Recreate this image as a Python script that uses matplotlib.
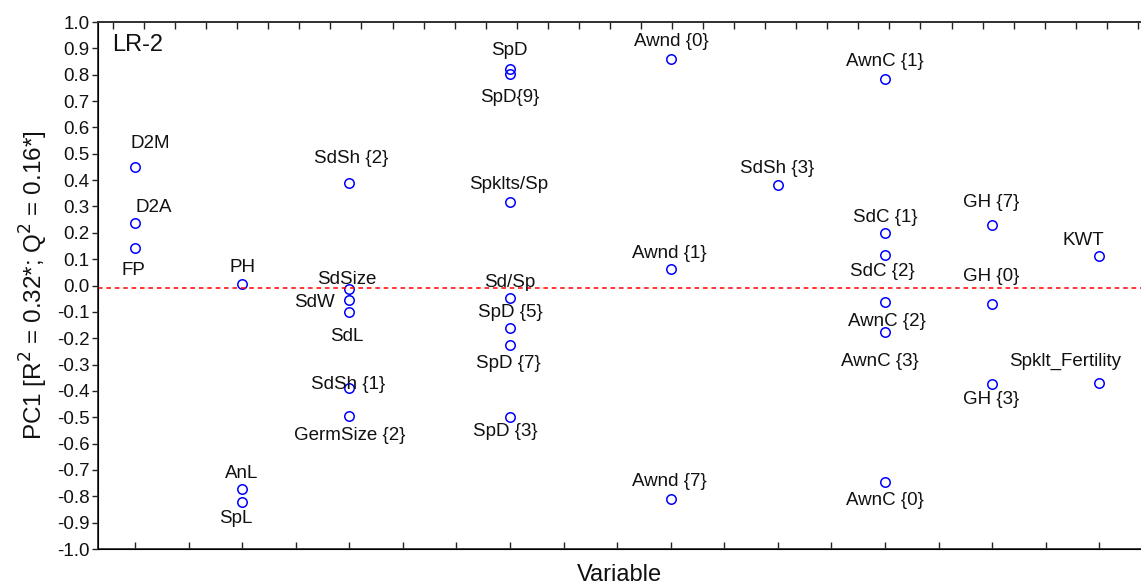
import matplotlib
matplotlib.use("Agg")
import matplotlib.pyplot as plt

plt.rcParams['font.family'] = ['Liberation Sans', 'DejaVu Sans']

# variable labels, column position on the "Variable" axis and PC1 loading
labels = ["D2M", "D2A", "FP",
          "PH", "AnL", "SpL",
          "SdSh {2}", "SdSize", "SdW", "SdL", "SdSh {1}", "GermSize {2}",
          "SpD", "SpD{9}", "Spklts/Sp", "Sd/Sp", "SpD {5}", "SpD {7}", "SpD {3}",
          "Awnd {0}", "Awnd {1}", "Awnd {7}",
          "SdSh {3}",
          "AwnC {1}", "SdC {1}", "SdC {2}", "AwnC {2}", "AwnC {3}", "AwnC {0}",
          "GH {7}", "GH {0}", "GH {3}",
          "KWT", "Spklt_Fertility"]
xpos = [1, 1, 1,
        3, 3, 3,
        5, 5, 5, 5, 5, 5,
        8, 8, 8, 8, 8, 8, 8,
        11, 11, 11,
        13,
        15, 15, 15, 15, 15, 15,
        17, 17, 17,
        19, 19]
pc1 = [0.45, 0.236, 0.141,
       0.005, -0.773, -0.82,
       0.39, -0.014, -0.055, -0.10, -0.39, -0.495,
       0.822, 0.803, 0.318, -0.049, -0.163, -0.226, -0.498,
       0.858, 0.061, -0.81,
       0.38,
       0.784, 0.198, 0.116, -0.061, -0.175, -0.745,
       0.23, -0.071, -0.374,
       0.112, -0.369]
threshold = -0.01

# label placement (pixel offsets from each point)
offsets = [(15, 23), (19, 16), (-2, -22),
           (0, 17), (-1, 16), (-6, -17),
           (2, 24), (-2, 10), (-35, -2), (-2, -25), (-1, 4), (0, -20),
           (-1, 18), (0, -24), (-1, 17), (0, 16), (0, 16), (-2, -18), (-5, -15),
           (1, 18), (-1, 16), (-1, 17),
           (-1, 17),
           (0, 17), (0, 16), (-3, -17), (2, -20), (-5, -30), (0, -19),
           (-1, 22), (-1, 28), (-1, -15),
           (-16, 16), (-34, 21)]

fig = plt.figure(figsize=(11.41, 5.84), dpi=100)
ax = fig.add_axes([0.0859, 0.0599, 0.9141, 0.9024])

ax.plot(xpos, pc1, linestyle='none', marker='o', markersize=6.8,
        markerfacecolor='none', markeredgecolor='#0000ff', markeredgewidth=1.1)
ax.axhline(threshold, color='#ff0000', linestyle=(0, (3, 2.5)), linewidth=1.1)

for lab, x, y, off in zip(labels, xpos, pc1, offsets):
    ax.annotate(lab, (x, y), xytext=off, textcoords='offset pixels',
                ha='center', va='center', fontsize=13.5, color='#111111')

ax.text(0.0134, 0.956, "LR-2", transform=ax.transAxes, fontsize=17,
        ha='left', va='center', color='#111111')

ax.set_xlim(0.309, 19.78)
ax.set_ylim(-1.0, 1.0)
ax.set_xticks(range(1, 20))
ax.set_xticklabels([])
ax.set_yticks([i / 10 for i in range(-10, 11)])
ax.set_yticklabels(["%.1f" % (i / 10) for i in range(-10, 11)])
ax.tick_params(axis='x', direction='in', length=5, width=1, color='#222222')
ax.tick_params(axis='y', direction='out', length=4, width=1, labelsize=13.5,
               color='#222222', labelcolor='#111111', pad=2)
ax.set_xlabel("Variable", fontsize=17, labelpad=7, color='#111111')
ax.set_ylabel("PC1 [R$^2$ = 0.32*; Q$^2$ = 0.16*]", fontsize=17.5,
              labelpad=5, color='#111111')

for side in ['left', 'bottom', 'top']:
    ax.spines[side].set_linewidth(1.3)
    ax.spines[side].set_color('#333333')
ax.spines['right'].set_visible(False)

top = ax.twiny()
top.set_xlim(-0.483, 33.1)
top.set_xticks(range(34))
top.set_xticklabels([])
top.tick_params(axis='x', direction='in', length=5, width=1, color='#222222')
top.spines['right'].set_visible(False)
top.spines['top'].set_linewidth(1.3)
top.spines['top'].set_color('#333333')

fig.savefig("out.png", dpi=100)
